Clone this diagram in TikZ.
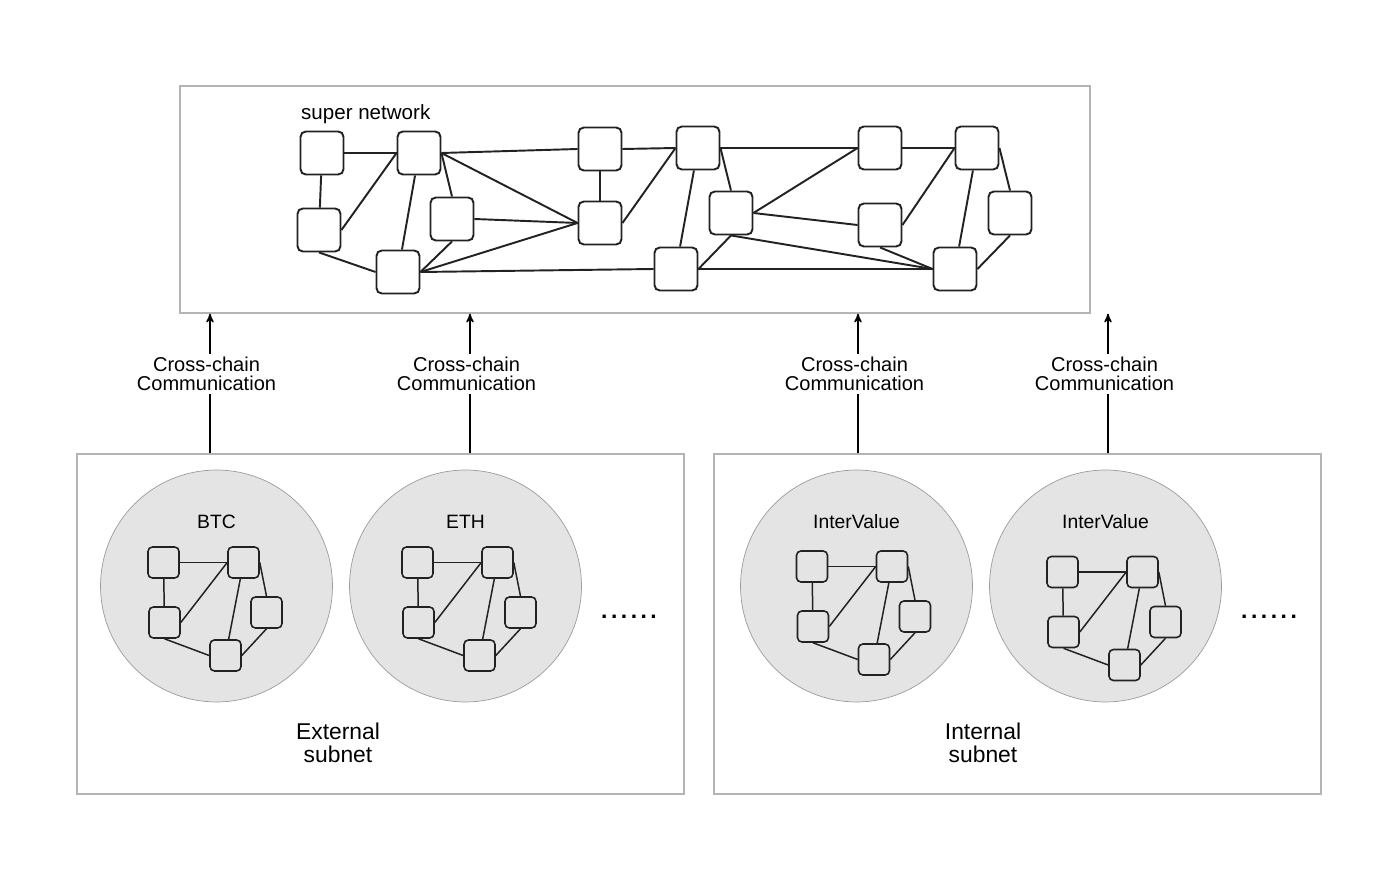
\documentclass[tikz,border=0pt]{standalone}
\usepackage{fontspec}
\setmainfont{Liberation Sans}
\usetikzlibrary{arrows,positioning,fit}

\definecolor{framegray}{HTML}{B4B4B4}
\definecolor{chaingray}{HTML}{E4E4E4}
\definecolor{rimgray}{HTML}{9C9C9C}
\definecolor{inkgray}{HTML}{222222}

\begin{document}
\begin{tikzpicture}[x=0.02cm,y=-0.02cm,>=stealth',
	peer/.style={draw=inkgray,line width=1.1pt,rounded corners=3pt,minimum size=0.86cm,inner sep=0pt},
	subpeer/.style={draw=inkgray,line width=0.9pt,rounded corners=2.5pt,minimum size=0.62cm,inner sep=0pt},
	chain/.style={circle,draw=rimgray,fill=chaingray,minimum size=4.64cm,inner sep=0pt},
	frame/.style={draw=framegray,line width=0.8pt,inner sep=0pt},
	link/.style={draw=inkgray,line width=1.1pt},
	sublink/.style={draw=inkgray,line width=0.85pt},
	every node/.style={font=\fontsize{11.4}{10.5}\selectfont}]
	\useasboundingbox (0,0) rectangle (1400,871);
	
	% frames
	\node[frame,fit={(180,86) (1090,313)}](super){};
	\node[frame,fit={(77,454) (684,794)}](ext){};
	\node[frame,fit={(714,454) (1321,794)}](int){};
	
	% super network
	\node[anchor=west,font=\fontsize{11.7}{12}\selectfont](title) at (295,114){super network};
	\node[peer](n1) at (322,153){};
	\node[peer](n2) at (419,153){};
	\node[peer](n3) at (319,230){};
	\node[peer](n4) at (452,219){};
	\node[peer](n5) at (398,272){};
	\node[peer](n6) at (600,149){};
	\node[peer](n7) at (600,223){};
	\node[peer](n8) at (698,148){};
	\node[peer](n9) at (676,269){};
	\node[peer](n10) at (731,213){};
	\node[peer](n11) at (880,148){};
	\node[peer](n12) at (880,225){};
	\node[peer](n13) at (977,148){};
	\node[peer](n14) at (1010,213){};
	\node[peer](n15) at (955,269){};
	
	\path[link] (n1.east) edge (n2.west)
		(n1) edge (n3)
		(n3.east) edge (n2.west)
		(n3.south) edge (n5.west)
		(n2) edge (n5)
		(n2.east) edge (n4.north)
		(n2.east) edge (n6.west)
		(n2.east) edge (n7.west)
		(n4.east) edge (n7.west)
		(n4.south) edge (n5.east)
		(n5.east) edge (n7.west)
		(n5.east) edge (n9.west)
		(n6) edge (n7)
		(n6.east) edge (n8.west)
		(n7.east) edge (n8.west)
		(n8) edge (n9)
		(n8.east) edge (n10.north)
		(n8.east) edge (n11.west)
		(n9.east) edge (n10.south)
		(n10.east) edge (n11.west)
		(n10.east) edge (n12.west)
		(n10.south) edge (n15.west)
		(n9.east) edge (n15.west)
		(n12.south) edge (n15.west)
		(n11.east) edge (n13.west)
		(n12.east) edge (n13.west)
		(n13) edge (n15)
		(n13.east) edge (n14.north)
		(n14.south) edge (n15.east);
	
	% cross-chain links
	\foreach \x/\sub in {210/ext,470/ext,858/int,1108/int}{
		\coordinate (ax) at (\x,0);
		\draw[->,line width=0.8pt] (\sub.north -| ax) -- node[pos=0.57,fill=white,align=center,inner sep=2pt,xshift=-2pt](cc\x){Cross-chain\\Communication} (super.south -| ax);
	}
	
	% chains
	\foreach \ch/\lab/\x/\sx/\sy in {btc/BTC/216.5/0/0,eth/ETH/465.5/5/0,iva/InterValue/856.5/8.5/4,ivb/InterValue/1105.5/10/9.5}{
		\node[chain](\ch) at (\x,586){};
		\node[font=\fontsize{11}{12}\selectfont](\ch-t) at (\x,522){\lab};
		\begin{scope}[shift={(\x+\sx,586+\sy)}]
			\node[subpeer](\ch-a) at (-53,-23.5){};
			\node[subpeer](\ch-b) at (27,-23.5){};
			\node[subpeer](\ch-c) at (-52,36.5){};
			\node[subpeer](\ch-d) at (50,26.5){};
			\node[subpeer](\ch-e) at (9,69.5){};
		\end{scope}
		\path[sublink] (\ch-a.east) edge (\ch-b.west)
			(\ch-a) edge (\ch-c)
			(\ch-c.east) edge (\ch-b.west)
			(\ch-b) edge (\ch-e)
			(\ch-b.east) edge (\ch-d.north)
			(\ch-c.south) edge (\ch-e.west)
			(\ch-d.south) edge (\ch-e.east);
	}
	
	\node[font=\fontsize{13}{13}\bfseries](dotsa) at (629,617){.\kern2pt.\kern2pt.\kern2pt.\kern2pt.\kern2pt.};
	\node[font=\fontsize{13}{13}\bfseries](dotsb) at (1269,617){.\kern2pt.\kern2pt.\kern2pt.\kern2pt.\kern2pt.};
	
	\node[align=center,font=\fontsize{13}{13}\selectfont](extlab) at (338,743){External\\subnet};
	\node[align=center,font=\fontsize{13}{13}\selectfont](intlab) at (983,743){Internal\\subnet};
\end{tikzpicture}
\end{document}
